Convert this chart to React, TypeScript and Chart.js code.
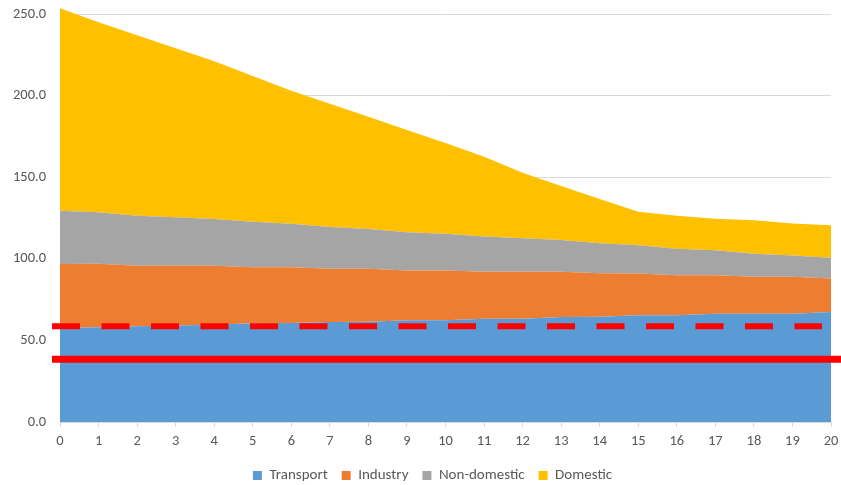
import React, { useEffect, useRef } from "react";
import { Chart, registerables } from "chart.js";

Chart.register(...registerables);

// Years from start of the projection
const years = Array.from({ length: 21 }, (_, i) => String(i));

// Emissions by sector (stacked)
const transport = [57.6, 58.0, 58.6, 59.2, 59.6, 60.5, 60.7, 61.3, 61.5, 62.3, 62.3, 63.3, 63.3, 64.3, 64.5, 65.4, 65.4, 66.4, 66.4, 66.4, 67.4];
const industry = [39.2, 39.0, 37.2, 36.6, 36.2, 34.3, 34.1, 32.6, 32.4, 30.5, 30.6, 28.8, 28.7, 27.7, 26.6, 25.6, 24.5, 23.5, 22.6, 22.6, 20.6];
const nonDomestic = [32.7, 31.5, 30.6, 29.6, 28.6, 27.9, 26.7, 25.6, 24.4, 23.4, 22.5, 21.5, 20.6, 19.5, 18.4, 17.3, 16.3, 15.3, 14.1, 13.1, 12.7];
const domestic = [124.0, 116.5, 110.6, 103.6, 96.6, 89.3, 81.5, 75.5, 68.7, 62.8, 55.6, 49.0, 40.2, 33.1, 27.1, 20.6, 20.2, 19.4, 20.5, 19.6, 19.8];

// Y axis tick values
const yTicks = [0, 50, 100, 150, 200, 250];

// Reference levels drawn across the chart
const dashedLevel = 58.7;
const solidLevel = 38.5;

const FONT = "Carlito, Lato, 'Liberation Sans', sans-serif";
const TEXT = "#595959";

const referenceLines = {
  id: "referenceLines",
  afterDatasetsDraw(chart: any) {
    const { ctx, chartArea, scales } = chart;
    const y = scales.y;
    ctx.save();
    ctx.strokeStyle = "#FF0000";
    // dashed level
    ctx.lineWidth = 6;
    ctx.setLineDash([28, 21.5]);
    const yd = y.getPixelForValue(dashedLevel);
    ctx.beginPath();
    ctx.moveTo(chartArea.left - 8, yd);
    ctx.lineTo(chartArea.right - 9, yd);
    ctx.stroke();
    // solid level
    ctx.lineWidth = 7;
    ctx.setLineDash([]);
    const ys = y.getPixelForValue(solidLevel);
    ctx.beginPath();
    ctx.moveTo(chartArea.left - 8, ys);
    ctx.lineTo(chart.width, ys);
    ctx.stroke();
    ctx.restore();
  },
};

// Nudge the legend row a little to the left of the plot centre
const legendShift = {
  id: "legendShift",
  afterUpdate(chart: any) {
    const lg = chart.legend;
    if (!lg) return;
    lg.left -= 13;
    lg.right -= 13;
  },
};

export default function App() {
  const canvasRef = useRef<HTMLCanvasElement | null>(null);

  useEffect(() => {
    if (!canvasRef.current) return;
    const area = (label: string, data: number[], color: string, fill: string | number) => ({
      label,
      data,
      backgroundColor: color,
      borderColor: color,
      borderWidth: 0,
      pointRadius: 0,
      fill,
      tension: 0,
    });
    const chart = new Chart(canvasRef.current, {
      type: "line",
      data: {
        labels: years,
        datasets: [
          area("Transport", transport, "#5B9BD5", "origin"),
          area("Industry", industry, "#ED7D31", "-1"),
          area("Non-domestic", nonDomestic, "#A5A5A5", "-1"),
          area("Domestic", domestic, "#FFC000", "-1"),
        ],
      },
      options: {
        animation: false,
        responsive: false,
        maintainAspectRatio: false,
        layout: { padding: { left: 0, right: 10, top: 7.5, bottom: -8 } },
        plugins: {
          legend: {
            position: "bottom",
            fullSize: false,
            labels: {
              boxWidth: 9,
              boxHeight: 9,
              padding: 14,
              color: TEXT,
              font: { family: FONT, size: 15 },
            },
          },
          tooltip: { enabled: false },
        },
        scales: {
          x: {
            type: "category",
            offset: false,
            grid: {
              display: true,
              drawOnChartArea: false,
              drawTicks: true,
              tickLength: 5,
              color: "#D9D9D9",
            },
            border: { display: true, color: "#D9D9D9" },
            ticks: {
              color: TEXT,
              font: { family: FONT, size: 14.5 },
              padding: 6,
              maxRotation: 0,
              autoSkip: false,
            },
            afterFit: (s: any) => {
              s.height = 32;
              s.paddingLeft = 0;
              s.paddingRight = 0;
            },
          },
          y: {
            stacked: true,
            min: 0,
            max: 254,
            grid: { color: "#D9D9D9", drawTicks: false, lineWidth: 1 },
            border: { display: false },
            afterBuildTicks: (s: any) => {
              s.ticks = yTicks.map((value) => ({ value }));
            },
            ticks: {
              color: TEXT,
              font: { family: FONT, size: 14.5 },
              padding: 14,
              callback: (v: any) => Number(v).toFixed(1),
            },
            afterFit: (s: any) => {
              s.width = 60;
              s.paddingTop = 0;
              s.paddingBottom = 0;
            },
          },
        },
      },
      plugins: [referenceLines, legendShift],
    });
    return () => chart.destroy();
  }, []);

  return (
    <div style={{ position: "absolute", left: 0, top: 0, width: 841, height: 485, background: "#fff" }}>
      <canvas ref={canvasRef} width={841} height={485} />
    </div>
  );
}
